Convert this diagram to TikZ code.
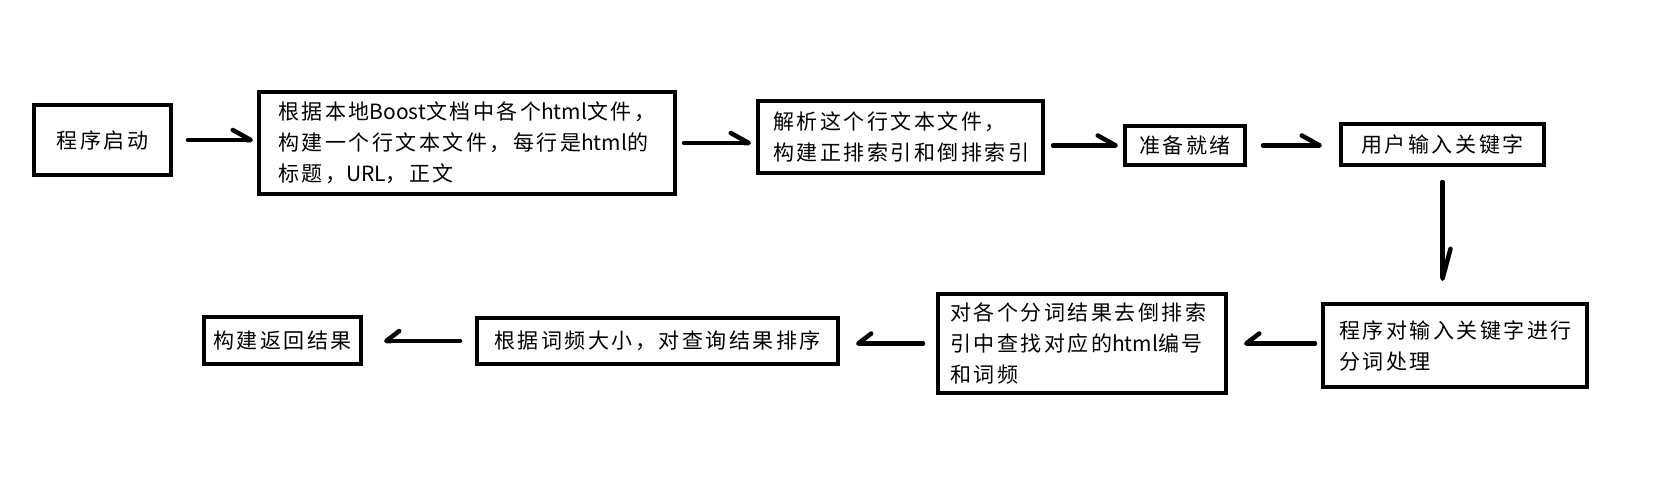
\documentclass[tikz,border=0pt]{standalone}
\usepackage{fontspec}
\newfontfamily\cjk[LetterSpace=12]{Noto Sans CJK SC}
\newcommand\lat[1]{{\addfontfeature{LetterSpace=0}#1}}
\usetikzlibrary{arrows.meta}
\tikzset{
  box/.style={draw, line width=4pt, inner sep=0pt, font=\cjk\fontsize{21}{31}\selectfont},
  cbox/.style={box, align=center},
  lbox/.style={box, align=left},
  rarr/.style={line width=4.5pt, line cap=round, -{Straight Barb[left, length=18pt, width=20pt, line width=4.5pt, round]}},
  darr/.style={line width=4.5pt, line cap=round, -{Straight Barb[left, length=30pt, width=16pt, line width=4.5pt, round]}},
  larr/.style={line width=4.5pt, line cap=round, -{Straight Barb[right, length=13pt, width=20pt, line width=4.5pt, round]}}
}
\begin{document}
\begin{tikzpicture}[x=1pt,y=-1pt]
\useasboundingbox (0,0) rectangle (1664,495);
\fill[white] (0,0) rectangle (1664,495);

\node[cbox, minimum width=137pt, minimum height=70pt] (b1) at (102.5,140) {程序启动};
\node[lbox, text width=378pt, inner xsep=19pt, minimum height=102pt] (b2) at (467,143)
  {根据本地\lat{Boost}文档中各个\lat{html}文件，\\构建一个行文本文件，每行是\lat{html}的\\标题，\lat{URL}，正文};
\node[lbox, text width=255pt, inner xsep=15pt, minimum height=72pt] (b3) at (900.5,137)
  {解析这个行文本文件，\\构建正排索引和倒排索引};
\node[cbox, minimum width=120pt, minimum height=39pt] (b4) at (1185,145.5) {准备就绪};
\node[cbox, minimum width=203pt, minimum height=41pt] (b5) at (1442.5,144.5) {用户输入关键字};
\node[lbox, text width=232pt, inner xsep=16pt, minimum height=83pt] (b6) at (1455,345.5)
  {程序对输入关键字进行\\分词处理};
\node[lbox, text width=264pt, inner xsep=12pt, minimum height=99pt] (b7) at (1082,343.5)
  {对各个分词结果去倒排索\\引中查找对应的\lat{html}编号\\和词频};
\node[lbox, text width=327pt, inner xsep=17pt, minimum height=46pt] (b8) at (657.5,341)
  {根据词频大小，对查询结果排序};
\node[cbox, minimum width=157pt, minimum height=47pt] (b9) at (282.5,340.5) {构建返回结果};

\draw[rarr, shorten <=15pt, shorten >=4pt] (b1.east) -- (b1.east -| b2.west);
\draw[rarr, shorten <=7pt, shorten >=5pt] (b2.east) -- (b2.east -| b3.west);
\draw[rarr, shorten <=8pt, shorten >=5pt] (b4.west -| b3.east) -- (b4.west);
\draw[rarr, shorten <=16pt, shorten >=17pt] (b4.east) -- (b4.east -| b5.west);
\draw[darr, shorten <=15pt, shorten >=21pt] (b5.south) -- (b5.south |- b6.north);
\draw[larr, shorten <=6pt, shorten >=16pt] (b7.east -| b6.west) -- (b7.east);
\draw[larr, shorten <=13pt, shorten >=16pt] (b7.west) -- (b7.west -| b8.east);
\draw[larr, shorten <=15pt, shorten >=21pt] (b8.west) -- (b8.west -| b9.east);
\end{tikzpicture}
\end{document}
